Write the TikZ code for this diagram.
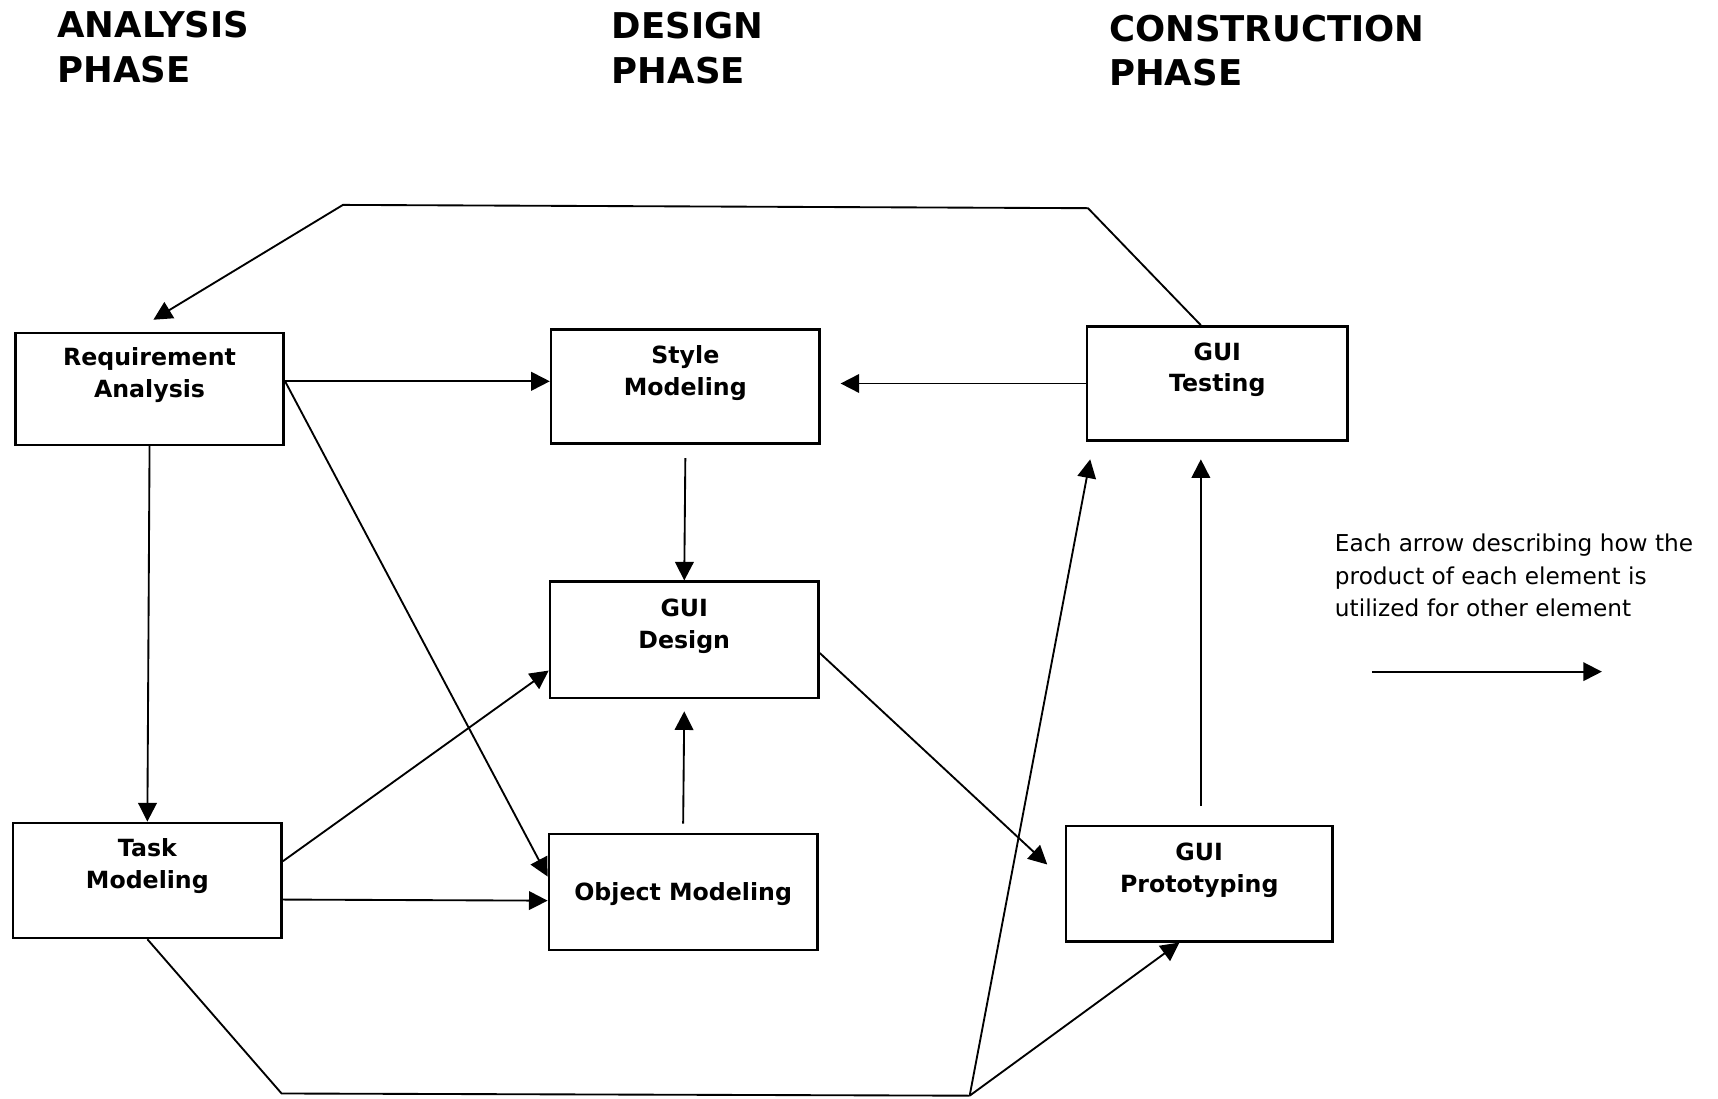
\documentclass[tikz,border=0pt]{standalone}
\usepackage{fontspec}
\setmainfont{DejaVu Sans}
\usetikzlibrary{arrows.meta,calc}

\begin{document}
\begin{tikzpicture}[x=0.5pt,y=-0.5pt,
  box/.style={draw,line width=1.2pt,minimum width=122.5pt,inner sep=0pt},
  lbl/.style={font=\fontsize{10.8}{14.5}\selectfont\bfseries,align=center,inner sep=0pt},
  phase/.style={font=\fontsize{16.2}{20.5}\selectfont\bfseries,align=left,anchor=north west,inner sep=0pt},
  conn/.style={line width=0.85pt},
  arr/.style={conn,-{Triangle[length=8.5pt,width=8.5pt]}},
]
\useasboundingbox (0,0) rectangle (1568,1003);

% phase headings
\node[phase] (ph-a) at (52,10) {ANALYSIS\\PHASE};
\node[phase] (ph-d) at (558,11) {DESIGN\\PHASE};
\node[phase] (ph-c) at (1012,13) {CONSTRUCTION\\PHASE};

% process boxes
\node[box,minimum height=51pt] (req) at (136.5,355) {};
\node[box,minimum height=52pt] (style) at (625.5,353) {};
\node[box,minimum width=119pt,minimum height=52pt] (test) at (1111,350) {};
\node[box,minimum height=53pt] (design) at (624.5,584) {};
\node[box,minimum height=52.5pt] (task) at (134.5,803.5) {};
\node[box,minimum height=53pt] (object) at (623.5,814) {};
\node[box,minimum width=121.5pt,minimum height=52.5pt] (proto) at (1094.5,806.5) {};

% box captions
\node[lbl] (req-t) at ($(req)+(0,-12.5)$) {Requirement\\Analysis};
\node[lbl] (style-t) at ($(style)+(0,-12.5)$) {Style\\Modeling};
\node[lbl] (test-t) at ($(test)+(0,-12.5)$) {GUI\\Testing};
\node[lbl] (design-t) at ($(design)+(0,-12.5)$) {GUI\\Design};
\node[lbl] (task-t) at ($(task)+(0,-13)$) {Task\\Modeling};
\node[lbl] (object-t) at ($(object)+(0,2)$) {Object Modeling};
\node[lbl] (proto-t) at ($(proto)+(0,-12.5)$) {GUI\\Prototyping};

% corner points of the feedback paths
\coordinate (top-r) at (993,190);
\coordinate (top-l) at (313,187);
\coordinate (bot-l) at (257,998);
\coordinate (bot-r) at (885,1000);

% feedback from testing to requirements
\draw[arr] ($(test.north)+(-15,0)$) -- (top-r) -- (top-l) -- ($(req.north)+(3.5,-11)$);

% analysis phase flows
\draw[arr] ($(req.east)+(0,-7)$) -- ($(style.west)+(0,-5)$);
\draw[arr] ($(req.east)+(0,-7)$) -- ($(object.west)+(0,-14)$);
\draw[arr] (req.south) -- (task.north);
\draw[arr] ($(task.east)+(0,-17.5)$) -- ($(design.west)+(0,28)$);
\draw[arr] ($(task.east)+(0,17.5)$) -- ($(object.west)+(0,8)$);

% design phase flows
\draw[arr] ($(style.south)+(0,12)$) -- (design.north);
\draw[arr] ($(object.north)+(0,-8)$) -- ($(design.south)+(0,11)$);
\draw[arr] (test.west) -- ($(style.east)+(18,-3)$);
\draw[arr] ($(design.east)+(0,12)$) -- ($(proto.west)+(-16,-17.5)$);

% construction phase flows
\draw[arr] ($(proto.north)+(1.5,-17)$) -- ($(test.south)+(-15,16)$);
\draw[conn] (task.south) -- (bot-l) -- (bot-r);
\draw[arr] (bot-r) -- ($(proto.south)+(-18,0)$);
\draw[arr] (bot-r) -- ($(test.south)+(-116,16)$);

% legend
\node[anchor=north west,align=left,inner sep=0pt,font=\fontsize{10.6}{14.75}\selectfont] (legend) at (1218,487)
  {Each arrow describing how the\\product of each element is\\utilized for other element};
\coordinate (leg-a) at (1252,613);
\coordinate (leg-b) at (1462,613);
\draw[arr] (leg-a) -- (leg-b);
\end{tikzpicture}
\end{document}
